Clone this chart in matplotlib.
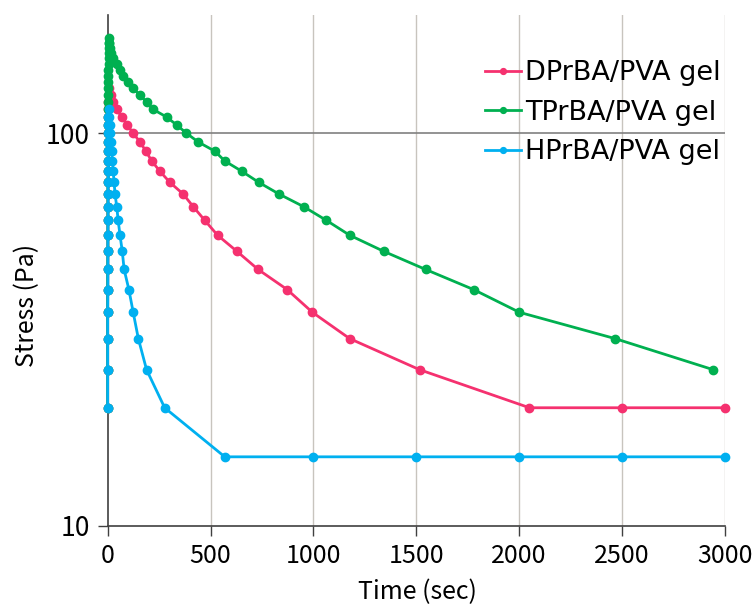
import matplotlib
matplotlib.use("Agg")
import matplotlib.pyplot as plt
from matplotlib.ticker import FixedLocator, NullLocator, FixedFormatter

plt.rcParams['font.family'] = ['Noto Sans CJK JP', 'DejaVu Sans']

# ---- data ----
dp_time = [0, 0, 0, 0, 0, 1, 1, 1, 1, 1, 2, 2, 2, 2, 3, 3, 3, 3, 4, 4, 4, 5, 5,
           15, 27, 44, 68, 95, 124, 157, 186, 214, 254, 302, 367, 416, 472, 534,
           629, 731, 872, 995, 1176, 1516, 2050, 2500, 3000]
dp_stress = [20, 25, 30, 35, 40, 45, 50, 55, 60, 65, 70, 75, 80, 85, 90, 95, 100,
             105, 110, 115, 120, 125, 130,
             125, 120, 115, 110, 105, 100, 95, 90, 85, 80, 75, 70, 65, 60, 55,
             50, 45, 40, 35, 30, 25, 20, 20, 20]

tp_time = [0, 0, 0, 0, 0, 0, 1, 1, 1, 1, 1, 1, 2, 2, 2, 2, 2, 3, 3, 3, 3, 3,
           4, 4, 4, 4, 5, 5, 5, 6, 6, 6,
           5, 10, 18, 28, 44, 60, 76, 100, 124, 157, 189, 221, 286, 335, 383,
           440, 521, 569, 652, 734, 833, 953, 1063, 1176, 1343, 1545, 1778,
           2001, 2466, 2943]
tp_stress = [20, 25, 30, 35, 40, 45, 50, 55, 60, 65, 70, 75, 80, 85, 90, 95,
             100, 105, 110, 115, 120, 125, 130, 135, 140, 145, 150, 155, 160,
             165, 170, 175,
             170, 165, 160, 155, 150, 145, 140, 135, 130, 125, 120, 115, 110,
             105, 100, 95, 90, 85, 80, 75, 70, 65, 60, 55, 50, 45, 40, 35, 30, 25]

hp_time = [0, 0, 0, 0, 1, 1, 1, 1, 2, 2, 2, 2, 3, 3, 3, 3, 4, 4, 4, 5,
           6, 9, 12, 15, 19, 23, 27, 31, 36, 44, 51, 60, 71, 80, 103, 124,
           149, 189, 277, 569, 1000, 1500, 2000, 2500, 3000]
hp_stress = [20, 25, 30, 35, 40, 45, 50, 55, 60, 65, 70, 75, 80, 85, 90, 95,
             100, 105, 110, 115,
             110, 105, 100, 95, 90, 85, 80, 75, 70, 65, 60, 55, 50, 45, 40, 35,
             30, 25, 20, 15, 15, 15, 15, 15, 15]

series_labels = ["DPrBA/PVA gel", "TPrBA/PVA gel", "HPrBA/PVA gel"]
series_colors = ["#F5316F", "#00B050", "#00B0F0"]

x_ticks = [0, 500, 1000, 1500, 2000, 2500, 3000]
y_ticks = [10, 100]

# ---- figure ----
fig = plt.figure(figsize=(7.54, 6.05), dpi=100)
ax = fig.add_axes([0.1428, 0.1306, 0.8187, 0.8446])

ax.set_yscale('log')
ax.set_xlim(0, 3000)
ax.set_ylim(10, 200)

# grid
for xv in x_ticks[1:]:
    ax.axvline(xv, color='#C8C4BE', lw=1.0, zorder=0)
ax.axhline(100, color='#808080', lw=1.2, zorder=0)

data = [(dp_time, dp_stress), (tp_time, tp_stress), (hp_time, hp_stress)]
for (t, s), lab, col in zip(data, series_labels, series_colors):
    ax.plot(t, s, color=col, lw=2.0, marker='o', markersize=6,
            label=lab, clip_on=False, zorder=3)

ax.xaxis.set_major_locator(FixedLocator(x_ticks))
ax.yaxis.set_major_locator(FixedLocator(y_ticks))
ax.yaxis.set_major_formatter(FixedFormatter([str(v) for v in y_ticks]))
ax.yaxis.set_minor_locator(NullLocator())

for side in ['top', 'right']:
    ax.spines[side].set_visible(False)
for side in ['left', 'bottom']:
    ax.spines[side].set_color('#404040')
    ax.spines[side].set_linewidth(1.2)

ax.tick_params(axis='both', direction='out', length=7, width=1.0,
               color='#404040', labelcolor='black')
ax.tick_params(axis='x', labelsize=18, pad=5)
ax.tick_params(axis='y', labelsize=19, pad=6)

fig.text(417 / 754, 1 - 592 / 605, "Time (sec)", fontsize=18,
         ha='center', va='center')
fig.text(27 / 754, 1 - 305 / 605, "Stress (Pa)", fontsize=18,
         rotation=90, ha='center', va='center')

leg = ax.legend(loc='upper left', bbox_to_anchor=(0.612, 0.911), frameon=False,
                prop={'family': ['DejaVu Sans'], 'size': 19.5},
                handlelength=1.3, handletextpad=0.15,
                labelspacing=0.49, borderpad=0, borderaxespad=0,
                markerscale=0.7)

fig.savefig("out.png", dpi=100)
